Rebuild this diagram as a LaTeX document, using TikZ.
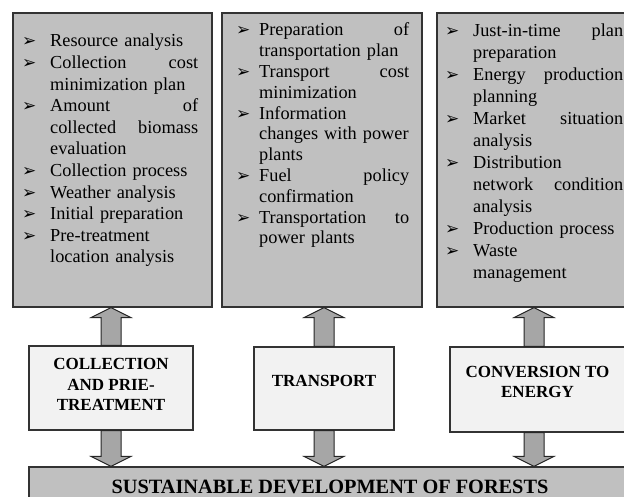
\documentclass[tikz,border=0pt]{standalone}
\usepackage{fontspec}
\setmainfont{Liberation Serif}
\newfontfamily\dejavu{DejaVu Sans}
\usetikzlibrary{calc}

\definecolor{boxgray}{HTML}{C0C0C0}
\definecolor{stagefill}{HTML}{F2F2F2}
\definecolor{arrowgray}{HTML}{A6A6A6}

\newlength{\taskindent}
\newcommand{\taskbul}{\makebox[\taskindent][l]{\dejavu\fontsize{17}{17}\selectfont ➢}}
\newcommand{\taskind}{\hspace*{\taskindent}}

\tikzset{
  taskbox/.style={draw=black!80, line width=1.2pt, fill=boxgray},
  tasklist/.style 2 args={anchor=base west, align=left,
    font=\fontsize{18.3}{#1}\selectfont\setlength{\taskindent}{#2}},
  stagebox/.style={draw=black!80, line width=1.2pt, fill=stagefill},
  stagelabel/.style={align=center, font=\bfseries\fontsize{17}{20.3}\selectfont},
  basebar/.style={draw=black!80, line width=1.2pt, fill=boxgray,
    font=\bfseries\fontsize{20.3}{24}\selectfont},
  fatarrow/.style={draw=black!85, line width=1pt, fill=arrowgray, to path={
    let \p1=(\tikztostart), \p2=(\tikztotarget),
        \p3=($(\tikztotarget)!10pt!(\tikztostart)$) in
    (\x1-10pt,\y1) -- (\x1-10pt,\y3) -- (\x1-20pt,\y3) -- (\x2,\y2)
    -- (\x1+20pt,\y3) -- (\x1+10pt,\y3) -- (\x1+10pt,\y1) -- cycle}}
}

\begin{document}
\begin{tikzpicture}[x=1pt,y=-1pt]
      \tikzstyle{every node}+=[inner sep=0pt]
      \useasboundingbox (0,0) rectangle (624,497);
      \clip (0,0) rectangle (624,497);
      % top boxes
      \node [taskbox, minimum width=199, minimum height=294] (lbox) at (112.5,160) {};
      \node [taskbox, minimum width=200, minimum height=294] (mbox) at (322,160) {};
      \node [taskbox, minimum width=200, minimum height=294] (rbox) at (537,160) {};
      \node [tasklist={21.6}{28pt}, text width=176] (ltext) at (22,47) {%
        \taskbul Resource analysis\\
        \taskbul Collection\hfill cost\\
        \taskind minimization plan\\
        \taskbul Amount\hfill of\\
        \taskind collected\hfill biomass\\
        \taskind evaluation\\
        \taskbul Collection process\\
        \taskbul Weather analysis\\
        \taskbul Initial preparation\\
        \taskbul Pre-treatment\\
        \taskind location analysis};
      \node [tasklist={20.8}{23pt}, text width=173] (mtext) at (236,36) {%
        \taskbul Preparation\hfill of\\
        \taskind transportation plan\\
        \taskbul Transport\hfill cost\\
        \taskind minimization\\
        \taskbul Information\\
        \taskind changes with power\\
        \taskind plants\\
        \taskbul Fuel\hfill policy\\
        \taskind confirmation\\
        \taskbul Transportation\hfill to\\
        \taskind power plants};
      \node [tasklist={22}{28pt}, text width=178] (rtext) at (445,37) {%
        \taskbul Just-in-time\hfill plan\\
        \taskind preparation\\
        \taskbul Energy\hfill production\\
        \taskind planning\\
        \taskbul Market\hfill situation\\
        \taskind analysis\\
        \taskbul Distribution\\
        \taskind network\hfill condition\\
        \taskind analysis\\
        \taskbul Production process\\
        \taskbul Waste\\
        \taskind management};
      % stages
      \node [stagebox, minimum width=164, minimum height=84] (collect) at (111,388) {};
      \node [stagebox, minimum width=140, minimum height=83] (transport) at (324,388.5) {};
      \node [stagebox, minimum width=176, minimum height=85] (convert) at (538,389.5) {};
      \node [stagelabel] (collectlbl) at (111,384.4) {COLLECTION\\AND PRIE-\\TREATMENT};
      \node [stagelabel] (transportlbl) at (324,381.2) {TRANSPORT};
      \node [stagelabel] (convertlbl) at (537.5,382.2) {CONVERSION TO\\ENERGY};
      % base
      \node [basebar, minimum width=602, minimum height=39] (forest) at (330,486.5) {SUSTAINABLE DEVELOPMENT OF FORESTS};
      % arrows
      \draw [fatarrow] (collect.north) to (collect.north |- lbox.south);
      \draw [fatarrow] (collect.south) to (collect.south |- forest.north);
      \draw [fatarrow] (transport.north) to (transport.north |- mbox.south);
      \draw [fatarrow] (transport.south) to (transport.south |- forest.north);
      \draw [fatarrow] (534,0 |- convert.north) to (534,0 |- rbox.south);
      \draw [fatarrow] (534,0 |- convert.south) to (534,0 |- forest.north);
    \end{tikzpicture}
\end{document}
